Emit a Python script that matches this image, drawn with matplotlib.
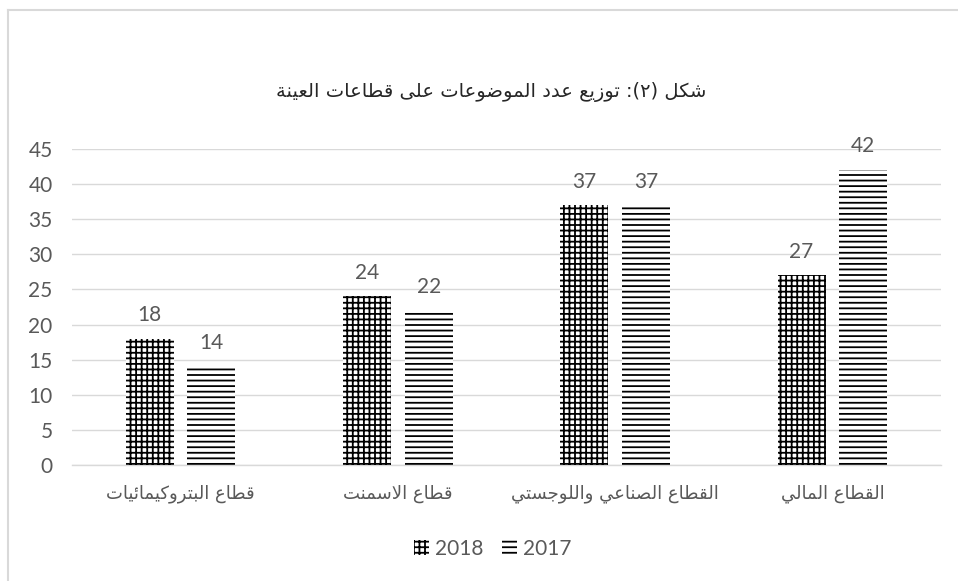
import matplotlib
matplotlib.use("Agg")
import matplotlib.pyplot as plt
from matplotlib.patches import Patch
from matplotlib.lines import Line2D
import numpy as np

# ---- data ----
categories = ["قطاع البتروكيمائيات", "قطاع الاسمنت", "القطاع الصناعي واللوجستي", "القطاع المالي"]
series_names = ["2018", "2017"]
values_2018 = [18, 24, 37, 27]
values_2017 = [14, 22, 37, 42]
y_ticks = [0, 5, 10, 15, 20, 25, 30, 35, 40, 45]
title_text = "شكل (٢): توزيع عدد الموضوعات على قطاعات العينة"

# ---- minimal Arabic shaping (contextual forms + RTL order) ----
_FORMS = {
    '\u0621': (0xFE80,),
    '\u0622': (0xFE81, 0xFE82), '\u0623': (0xFE83, 0xFE84), '\u0624': (0xFE85, 0xFE86),
    '\u0625': (0xFE87, 0xFE88), '\u0626': (0xFE89, 0xFE8A, 0xFE8B, 0xFE8C),
    '\u0627': (0xFE8D, 0xFE8E), '\u0628': (0xFE8F, 0xFE90, 0xFE91, 0xFE92),
    '\u0629': (0xFE93, 0xFE94), '\u062A': (0xFE95, 0xFE96, 0xFE97, 0xFE98),
    '\u062B': (0xFE99, 0xFE9A, 0xFE9B, 0xFE9C), '\u062C': (0xFE9D, 0xFE9E, 0xFE9F, 0xFEA0),
    '\u062D': (0xFEA1, 0xFEA2, 0xFEA3, 0xFEA4), '\u062E': (0xFEA5, 0xFEA6, 0xFEA7, 0xFEA8),
    '\u062F': (0xFEA9, 0xFEAA), '\u0630': (0xFEAB, 0xFEAC), '\u0631': (0xFEAD, 0xFEAE),
    '\u0632': (0xFEAF, 0xFEB0), '\u0633': (0xFEB1, 0xFEB2, 0xFEB3, 0xFEB4),
    '\u0634': (0xFEB5, 0xFEB6, 0xFEB7, 0xFEB8), '\u0635': (0xFEB9, 0xFEBA, 0xFEBB, 0xFEBC),
    '\u0636': (0xFEBD, 0xFEBE, 0xFEBF, 0xFEC0), '\u0637': (0xFEC1, 0xFEC2, 0xFEC3, 0xFEC4),
    '\u0638': (0xFEC5, 0xFEC6, 0xFEC7, 0xFEC8), '\u0639': (0xFEC9, 0xFECA, 0xFECB, 0xFECC),
    '\u063A': (0xFECD, 0xFECE, 0xFECF, 0xFED0), '\u0641': (0xFED1, 0xFED2, 0xFED3, 0xFED4),
    '\u0642': (0xFED5, 0xFED6, 0xFED7, 0xFED8), '\u0643': (0xFED9, 0xFEDA, 0xFEDB, 0xFEDC),
    '\u0644': (0xFEDD, 0xFEDE, 0xFEDF, 0xFEE0), '\u0645': (0xFEE1, 0xFEE2, 0xFEE3, 0xFEE4),
    '\u0646': (0xFEE5, 0xFEE6, 0xFEE7, 0xFEE8), '\u0647': (0xFEE9, 0xFEEA, 0xFEEB, 0xFEEC),
    '\u0648': (0xFEED, 0xFEEE), '\u0649': (0xFEEF, 0xFEF0), '\u064A': (0xFEF1, 0xFEF2, 0xFEF3, 0xFEF4),
}
_LAM_ALEF = {'\u0627': (0xFEFB, 0xFEFC), '\u0623': (0xFEF7, 0xFEF8),
             '\u0625': (0xFEF9, 0xFEFA), '\u0622': (0xFEF5, 0xFEF6)}
_MIRROR = {'(': ')', ')': '(', '[': ']', ']': '['}


def _dual(c):
    return c in _FORMS and len(_FORMS[c]) == 4


def shape_ar(text):
    out = []
    i = 0
    n = len(text)
    while i < n:
        c = text[i]
        if c not in _FORMS:
            out.append(c)
            i += 1
            continue
        prev = text[i - 1] if i > 0 else ''
        jp = _dual(prev)
        if c == '\u0644' and i + 1 < n and text[i + 1] in _LAM_ALEF:
            f = _LAM_ALEF[text[i + 1]]
            out.append(chr(f[1] if jp else f[0]))
            i += 2
            continue
        nxt = text[i + 1] if i + 1 < n else ''
        jn = _dual(c) and nxt in _FORMS
        forms = _FORMS[c]
        if len(forms) == 1:
            g = forms[0]
        elif jp and jn:
            g = forms[3]
        elif jp:
            g = forms[1]
        elif jn:
            g = forms[2]
        else:
            g = forms[0]
        out.append(chr(g))
        i += 1
    return ''.join(_MIRROR.get(ch, ch) for ch in reversed(out))


# ---- figure ----
W, H = 958, 581
fig = plt.figure(figsize=(W / 100, H / 100), dpi=100)
plt.rcParams['hatch.linewidth'] = 1.3

# outer chart border (light gray, left and top edges visible)
fig.add_artist(Line2D([8 / W, 8 / W], [0, 1 - 10 / H], transform=fig.transFigure,
                      color='#d9d9d9', lw=1.5))
fig.add_artist(Line2D([8 / W, 1], [1 - 10 / H, 1 - 10 / H], transform=fig.transFigure,
                      color='#d9d9d9', lw=1.5))

ax = fig.add_axes([72 / W, (H - 465) / H, 869 / W, 316 / H])

x = np.arange(len(categories))
bw = 0.221
off = 0.142
gray = '#595959'
b1 = ax.bar(x - off, values_2018, bw, facecolor='white', edgecolor='black',
            hatch='+++', linewidth=0, zorder=3)
b2 = ax.bar(x + off, values_2017, bw, facecolor='white', edgecolor='black',
            hatch='---', linewidth=0, zorder=3)

for bars, vals in ((b1, values_2018), (b2, values_2017)):
    for r, v in zip(bars, vals):
        ax.annotate(str(v), (r.get_x() + r.get_width() / 2, v), xytext=(0, 17),
                    textcoords='offset points', ha='center', va='center',
                    fontsize=15, color=gray, family='Lato')

ax.set_xlim(-0.5, 3.5)
ax.set_ylim(0, 45)
ax.set_yticks(y_ticks)
ax.set_yticklabels([str(t) for t in y_ticks], fontsize=15, color=gray, family='Lato')
ax.set_xticks(x)
ax.set_xticklabels([shape_ar(c) for c in categories], fontsize=13, color=gray,
                   family='DejaVu Sans')
ax.tick_params(axis='both', length=0)
ax.tick_params(axis='y', pad=14)
ax.tick_params(axis='x', pad=14)
ax.yaxis.grid(True, color='#d9d9d9', lw=1, zorder=0)
ax.set_axisbelow(True)
for s in ('top', 'right', 'left'):
    ax.spines[s].set_visible(False)
ax.spines['bottom'].set_color('#d9d9d9')
ax.spines['bottom'].set_linewidth(1)

fig.text(491 / W, 1 - 92 / H, shape_ar(title_text), ha='center', va='center',
         fontsize=14, color='#262626', family='DejaVu Sans')

handles = [Patch(facecolor='white', edgecolor='black', hatch='+++', linewidth=0),
           Patch(facecolor='white', edgecolor='black', hatch='---', linewidth=0)]
fig.legend(handles, series_names, loc='center', bbox_to_anchor=(493 / W, 1 - 549 / H),
           ncol=2, frameon=False, labelcolor=gray,
           handlelength=0.7, handleheight=0.7, handletextpad=0.3, columnspacing=0.9,
           prop={'family': 'Lato', 'size': 15})

fig.savefig('out.png', dpi=100)
